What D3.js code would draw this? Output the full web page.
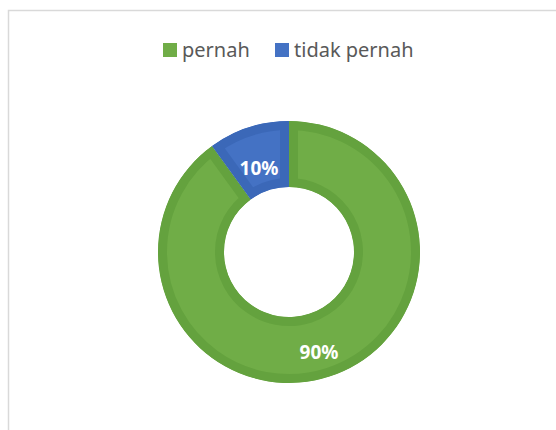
<!DOCTYPE html>
<html lang="id">
<head>
<meta charset="UTF-8">
<title>pernah / tidak pernah</title>
<script src="https://d3js.org/d3.v7.min.js"></script>
<style>
  body { margin: 0; background: #fff; }
  text { font-family: "Noto Sans", "Open Sans", sans-serif; }
</style>
</head>
<body>
<svg id="chart" width="556" height="430"></svg>
<script>
// data
var categories = ["pernah", "tidak pernah"];
var values = [90, 10];
var fills = ["#70AD47", "#4472C4"];
var borders = ["#64A23E", "#3B68B8"];

var svg = d3.select("#chart");

// chart area border (only top and left visible)
svg.append("rect")
  .attr("x", 8.5).attr("y", 10.5)
  .attr("width", 700).attr("height", 600)
  .attr("fill", "none")
  .attr("stroke", "#d9d9d9")
  .attr("stroke-width", 1.5);

// legend
var legendX = [163, 275];
var legend = svg.selectAll("g.legend")
  .data(categories)
  .enter().append("g")
  .attr("class", "legend")
  .attr("transform", function(d, i) { return "translate(" + legendX[i] + ",43)"; });

legend.append("rect")
  .attr("width", 14).attr("height", 14)
  .attr("fill", function(d, i) { return fills[i]; });

legend.append("text")
  .attr("x", 19).attr("y", 14)
  .attr("font-size", "20px")
  .attr("fill", "#595959")
  .text(function(d) { return d; });

// donut
var cx = 289, cy = 252;
var outerR = 131, innerR = 65;
var band = 9;

var pie = d3.pie().sort(null)(values);
var arc = d3.arc().innerRadius(innerR).outerRadius(outerR);
var labelArc = d3.arc().innerRadius(97).outerRadius(97);

var g = svg.append("g").attr("transform", "translate(" + cx + "," + cy + ")");
var defs = svg.append("defs");

// clip each slice so its border is drawn inside it
pie.forEach(function(p, i) {
  defs.append("clipPath").attr("id", "clip" + i)
    .append("path").attr("d", arc(p));
});

g.selectAll("path.slice")
  .data(pie)
  .enter().append("path")
  .attr("class", "slice")
  .attr("d", arc)
  .attr("fill", function(d, i) { return fills[i]; })
  .attr("stroke", function(d, i) { return borders[i]; })
  .attr("stroke-width", band * 2)
  .attr("clip-path", function(d, i) { return "url(#clip" + i + ")"; });

// data labels
g.selectAll("text.label")
  .data(pie)
  .enter().append("text")
  .attr("class", "label")
  .attr("transform", function(d) {
    var c = labelArc.centroid(d);
    return "translate(" + c[0] + "," + (c[1] + 8) + ")";
  })
  .attr("text-anchor", "middle")
  .attr("dominant-baseline", "central")
  .attr("font-size", "19px")
  .attr("font-weight", "bold")
  .attr("fill", "#fff")
  .text(function(d) { return d.data + "%"; });
</script>
</body>
</html>
